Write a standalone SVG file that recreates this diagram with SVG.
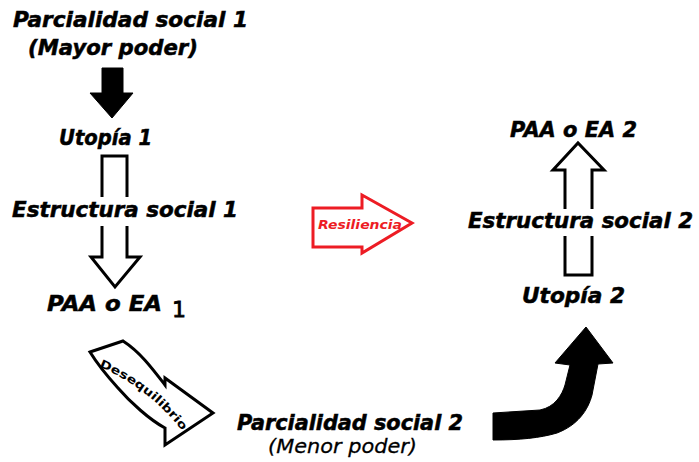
<svg xmlns="http://www.w3.org/2000/svg" width="699" height="462" viewBox="0 0 699 462">
<style>
.t{font-family:"DejaVu Sans","Liberation Sans",sans-serif;font-weight:bold;font-style:italic;font-size:20.5px;fill:#000;stroke:#000;stroke-width:0.5}
.r{font-family:"DejaVu Sans","Liberation Sans",sans-serif;font-style:italic;font-size:20px;fill:#000;stroke:#000;stroke-width:0.3}
.o{fill:#fff;stroke:#000;stroke-width:3;stroke-linejoin:miter}
.s{fill:#000;stroke:#000;stroke-width:1;stroke-linejoin:round}
.red{fill:#fff;stroke:#ed1c24;stroke-width:3}
.rt{font-family:"DejaVu Sans","Liberation Sans",sans-serif;font-weight:bold;font-style:italic;font-size:13px;fill:#ed1c24}
.d{font-family:"DejaVu Sans","Liberation Sans",sans-serif;font-weight:bold;font-size:11.5px;fill:#000}
</style>
<rect width="699" height="462" fill="#fff"/>
<g id="connectors">
  <path id="arrow-top" class="s" d="M102,68 L123,68 L123,93 L133,93 L112,118 L90,93 L102,93 Z"/>
  <g id="arrow-left">
    <path class="o" d="M102,156 L127,156 L127,257 L140,257 L115,287 L91,257 L102,257 Z"/>
    <rect x="95" y="197" width="40" height="29" fill="#fff"/>
  </g>
  <g id="arrow-desequilibrio">
    <path class="o" d="M90,352 L123,341 C140,352 152,368 165,385 L165,378 L213,413 L165,445 L165,428 C150,420 130,402 118,388 C108,377 98,365 90,352 Z"/>
    <path id="dpath" d="M99,367 C125,377 157,398 183,432" fill="none"/>
    <text class="d"><textPath href="#dpath" textLength="106" lengthAdjust="spacingAndGlyphs">Desequilibrio</textPath></text>
  </g>
  <g id="arrow-resiliencia">
    <path class="red" d="M313,208 L362,208 L362,195 L412,223 L362,253 L362,247 L313,247 Z"/>
    <text class="rt" x="318" y="229" textLength="84" lengthAdjust="spacingAndGlyphs">Resiliencia</text>
  </g>
  <path id="arrow-curved" class="s" d="M493,413 L540,410 C555,407 562,395 565,385 L570,365 L555,363 L586,327 L613,363 L598,364 L592,395 C588,410 578,425 557,433 C540,438 520,440 493,440 Z"/>
  <g id="arrow-right">
    <path class="o" d="M565,275 L592,275 L592,170 L604,170 L578,143 L553,170 L565,170 Z"/>
    <rect x="558" y="209" width="40" height="27" fill="#fff"/>
  </g>
</g>
<g id="node-parcialidad1">
  <text class="t" x="13" y="27" textLength="235" lengthAdjust="spacingAndGlyphs">Parcialidad social  1</text>
  <text class="t" x="28" y="55" textLength="170" lengthAdjust="spacingAndGlyphs">(Mayor poder)</text>
</g>
<g id="node-utopia1">
  <text class="t" x="59" y="145" textLength="93" lengthAdjust="spacingAndGlyphs">Utopía 1</text>
</g>
<g id="node-estructura1">
  <text class="t" x="12" y="217" textLength="226" lengthAdjust="spacingAndGlyphs">Estructura social 1</text>
</g>
<g id="node-paa1">
  <text class="t" x="47" y="311" textLength="115" lengthAdjust="spacingAndGlyphs">PAA o EA</text>
  <text x="172" y="317" style="font-family:'DejaVu Sans',sans-serif;font-size:22px;stroke:#000;stroke-width:0.8" fill="#000">1</text>
</g>
<g id="node-parcialidad2">
  <text class="t" x="237" y="430" textLength="226" lengthAdjust="spacingAndGlyphs">Parcialidad social 2</text>
  <text class="r" x="268" y="453" textLength="149" lengthAdjust="spacingAndGlyphs">(Menor poder)</text>
</g>
<g id="node-paa2">
  <text class="t" x="510" y="137" textLength="127" lengthAdjust="spacingAndGlyphs">PAA o EA 2</text>
</g>
<g id="node-estructura2">
  <text class="t" x="468" y="228" textLength="225" lengthAdjust="spacingAndGlyphs">Estructura social 2</text>
</g>
<g id="node-utopia2">
  <text class="t" x="522" y="303" textLength="103" lengthAdjust="spacingAndGlyphs">Utopía 2</text>
</g>
</svg>
